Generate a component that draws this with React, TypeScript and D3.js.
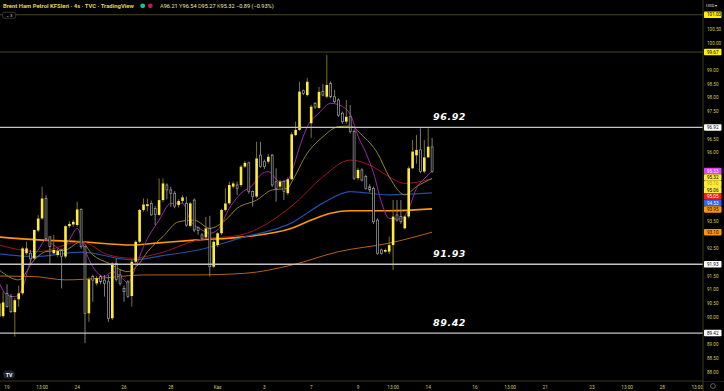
import React from 'react';
import * as d3 from 'd3';

const width = 724;
const height = 391;
const plotRight = 703;
const axisBottom = 381;

// 4h candles, index 0 = first visible bar
const opens = [
  90.02, 90.04, 90.87, 90.75, 90.18, 90.65, 90.87, 92.33, 92.33, 92.14, 93.16, 93.6, 94.33, 92.93, 92.33, 92.27,
  92.45, 92.21, 93.32, 93.38, 93.36, 93.93, 92.57, 90.14, 91.48, 91.23, 91.48, 91.35, 91.29, 89.96, 91.96, 91.54,
  91.05, 91.29, 90.77, 92.02, 92.75, 93.91, 94.05, 94.15, 93.97, 93.73, 94.27, 94.82, 94.64, 94.52, 94.09, 94.24,
  94.15, 93.33, 94.27, 93.28, 93.0, 92.91, 93.24, 91.84, 92.63, 93.06, 93.91, 94.15, 94.76, 94.82, 94.82, 95.49,
  95.63, 94.58, 94.4, 95.91, 95.67, 95.67, 95.91, 94.94, 94.76, 94.94, 94.52, 95.03, 96.64, 96.83, 98.26, 98.1,
  97.07, 97.8, 97.63, 98.23, 98.04, 98.53, 98.04, 97.92, 97.44, 97.13, 97.31, 96.77, 95.07, 95.37, 95.13, 94.76,
  94.7, 93.54, 92.45, 92.39, 92.39, 92.63, 93.73, 93.67, 93.24, 93.67, 95.43, 95.9, 96.1, 95.31, 95.83, 96.21,
];
const highs = [
  90.6, 90.93, 91.2, 90.85, 90.7, 91.15, 92.55, 92.75, 92.45, 93.2, 93.72, 94.76, 94.45, 92.95, 93.0, 92.5,
  92.5, 93.35, 93.5, 93.55, 94.21, 93.97, 92.6, 91.45, 91.55, 91.5, 91.54, 91.54, 91.54, 92.0, 92.14, 91.75,
  91.15, 91.35, 92.1, 92.8, 93.95, 94.33, 94.33, 94.25, 94.05, 95.06, 95.06, 94.88, 94.76, 94.6, 94.3, 94.45,
  94.4, 94.2, 94.33, 93.3, 93.06, 93.66, 93.7, 92.8, 93.1, 93.95, 94.7, 94.94, 94.95, 94.94, 95.55, 95.7,
  95.67, 94.62, 96.4, 96.4, 95.75, 95.95, 95.95, 95.43, 95.0, 95.0, 95.1, 96.75, 97.13, 98.59, 98.3, 98.72,
  97.75, 97.85, 98.4, 98.5, 99.56, 98.6, 98.29, 97.98, 97.5, 97.92, 97.74, 96.85, 95.45, 95.43, 95.2, 94.85,
  94.76, 93.6, 92.5, 92.5, 92.94, 94.27, 94.27, 94.27, 93.7, 95.5, 96.46, 96.64, 96.89, 96.46, 96.89, 96.54,
];
const lows = [
  89.45, 89.98, 90.35, 90.15, 89.29, 90.38, 90.8, 92.27, 91.96, 92.1, 93.1, 93.55, 92.8, 91.9, 92.3, 92.2,
  91.05, 92.15, 93.25, 93.3, 93.3, 92.5, 89.05, 89.83, 90.56, 91.15, 91.2, 90.75, 89.83, 89.9, 91.3, 91.15,
  90.56, 90.7, 90.38, 91.96, 92.7, 93.85, 93.85, 93.7, 93.36, 93.7, 94.2, 94.3, 94.03, 93.97, 94.0, 94.15,
  93.3, 93.28, 93.1, 93.0, 92.8, 92.85, 91.48, 91.8, 92.55, 93.0, 93.85, 94.1, 94.7, 94.46, 94.75, 95.45,
  94.5, 94.03, 94.35, 95.45, 95.4, 95.6, 94.75, 94.21, 94.7, 94.27, 94.45, 95.0, 96.6, 96.8, 98.1, 98.05,
  96.54, 97.6, 97.6, 98.05, 97.98, 97.98, 97.8, 97.3, 97.05, 97.05, 96.7, 95.0, 95.0, 94.95, 94.65, 94.55,
  93.4, 92.28, 92.28, 92.35, 92.3, 91.72, 93.48, 93.4, 93.2, 93.6, 95.4, 95.6, 95.25, 95.25, 95.8, 95.27,
];
const closes = [
  90.5, 90.54, 90.38, 90.2, 90.62, 90.87, 92.51, 92.51, 92.13, 93.18, 93.6, 94.33, 92.87, 92.57, 92.45, 92.41,
  92.21, 93.32, 93.4, 93.48, 93.93, 92.57, 90.14, 91.38, 91.35, 91.42, 91.29, 91.23, 89.96, 91.96, 91.38, 91.23,
  90.93, 90.75, 92.02, 92.75, 93.91, 94.11, 94.12, 93.73, 93.75, 94.27, 94.88, 94.64, 94.52, 94.05, 94.24, 94.37,
  93.36, 94.15, 93.18, 93.16, 92.88, 93.24, 91.84, 92.75, 93.06, 93.91, 94.15, 94.82, 94.88, 94.7, 95.49, 95.63,
  94.58, 94.4, 95.79, 95.49, 95.49, 95.85, 94.82, 94.7, 94.94, 94.58, 95.03, 96.67, 96.83, 98.23, 98.16, 98.59,
  97.68, 97.66, 98.22, 98.1, 98.47, 98.04, 97.86, 97.37, 97.13, 97.31, 96.77, 95.07, 95.37, 95.0, 94.7, 94.64,
  93.48, 92.33, 92.33, 92.45, 92.63, 93.67, 93.54, 93.48, 93.67, 95.43, 96.04, 96.1, 95.31, 95.83, 96.22, 95.32,
];

// moving averages at a few bars
const purpleIdx = [0, 2, 4, 6, 8, 10, 12, 14, 16, 18, 20, 22, 24, 27, 29, 32, 33, 35, 37, 41, 44, 47, 49, 52, 54, 56, 59, 62, 65, 67, 69, 72, 74, 75, 77, 79, 82, 85, 87, 90, 92, 94, 96, 98, 100, 103, 105, 107, 109, 111];
const purpleVal = [91.25, 90.81, 90.75, 91.07, 92.02, 92.45, 92.82, 92.63, 92.45, 92.82, 93.24, 92.45, 91.84, 91.48, 91.66, 91.36, 91.24, 91.84, 92.57, 93.54, 94.15, 94.16, 93.54, 93.18, 93.06, 93.18, 93.97, 94.52, 94.82, 95.19, 95.31, 94.94, 95.0, 95.3, 96.2, 96.95, 97.45, 97.8, 97.75, 97.4, 96.6, 96.0, 95.25, 94.2, 93.6, 93.58, 93.95, 94.7, 95.05, 95.33];
const oliveIdx = [0, 5, 9, 12, 17, 21, 24, 28, 33, 36, 38, 42, 46, 50, 54, 58, 61, 66, 70, 74, 75, 79, 83, 87, 90, 93, 97, 100, 104, 107, 111];
const oliveVal = [91.72, 91.36, 92.09, 92.39, 92.45, 92.75, 92.27, 91.97, 91.66, 91.97, 92.38, 92.94, 93.48, 93.54, 93.24, 93.54, 93.97, 94.27, 94.64, 94.7, 94.93, 95.98, 96.58, 96.95, 96.97, 96.64, 95.98, 95.12, 94.46, 94.76, 95.06];
const redIdx = [0, 10, 21, 28, 34, 41, 51, 62, 75, 83, 90, 95, 100, 104, 111];
const redVal = [92.63, 92.39, 92.75, 92.27, 92.15, 92.33, 92.82, 93.0, 94.05, 95.12, 95.73, 95.55, 95.12, 94.88, 95.05];
const blueIdx = [0, 9, 21, 34, 43, 51, 62, 75, 83, 90, 100, 111];
const blueVal = [92.31, 92.21, 92.37, 92.09, 92.27, 92.45, 92.89, 93.44, 94.16, 94.58, 94.46, 94.53];
const orangeIdx = [0, 10, 21, 34, 41, 51, 62, 75, 80, 85, 90, 100, 111];
const orangeVal = [92.92, 92.82, 92.75, 92.63, 92.71, 92.82, 92.92, 93.24, 93.54, 93.79, 93.88, 93.88, 93.95];
const brownIdx = [0, 9, 17, 26, 37, 50, 63, 75, 87, 100, 111];
const brownVal = [91.5, 91.48, 91.36, 91.42, 91.54, 91.54, 91.6, 91.9, 92.39, 92.7, 93.1];

// time axis
const timeTickIdx = [2, 11, 20, 32, 44, 56, 68, 80, 92, 101, 110, 122, 131, 140, 152, 161, 170, 179];
const timeTickLabels = ['19', '13:00', '24', '26', '28', 'Kas', '3', '7', '9', '13:00', '14', '16', '13:00', '21', '23', '13:00', '28', '13:00'];

// horizontal levels
const whiteLevels = [96.92, 91.93, 89.42];
const oliveLevels = [101.03, 99.67];

// price scale badges
const badgeValues = [101.03, 99.67, 96.92, 95.33, 95.32, 95.16, 95.06, 95.05, 94.53, 93.95, 93.1, 91.93, 89.42];
const badgeFill = ['#ffee00', '#ffee00', '#ffffff', '#e040fb', '#ffeb3b', '#ffeb3b', '#ffeb3b', '#ff1a1a', '#2962ff', '#ff9800', '#ff9800', '#ffffff', '#ffffff'];
const badgeText = ['#000', '#000', '#000', '#fff', '#000', '#b9a400', '#000', '#fff', '#fff', '#000', '#000', '#000', '#000'];

const x = d3.scaleLinear().domain([0, 1]).range([-0.8, 3.1]);
const y = d3.scaleLinear().domain([88, 100]).range([372, 43]);

const axisColor = '#3a3716';
const tickColor = '#d9cc45';
const font = 'Roboto, "Liberation Sans", sans-serif';

function maPath(idx: number[], val: number[]) {
  const line = d3
    .line<number>()
    .x((d, k) => x(idx[k]))
    .y((d) => y(d))
    .curve(d3.curveMonotoneX);
  return line(val) || '';
}

export default function App() {
  const bodyW = 2.6;

  // stack badges so they don't overlap
  const badgeH = 6.4;
  const badgeY: number[] = [];
  badgeValues.forEach((v, k) => {
    const natural = y(v);
    badgeY.push(k === 0 ? natural : Math.max(natural, badgeY[k - 1] + badgeH));
  });

  // hide axis ticks sitting under a badge
  const priceTicks = d3
    .range(88, 101.001, 0.5)
    .filter((v) => badgeY.every((b) => Math.abs(y(v) - b) > 6.2));

  const mas = [
    { idx: brownIdx, val: brownVal, color: '#b5630f', w: 1 },
    { idx: orangeIdx, val: orangeVal, color: '#ff9800', w: 1.6 },
    { idx: blueIdx, val: blueVal, color: '#1f4fa8', w: 1.2 },
    { idx: redIdx, val: redVal, color: '#a3161a', w: 1 },
    { idx: oliveIdx, val: oliveVal, color: '#8f8628', w: 1 },
    { idx: purpleIdx, val: purpleVal, color: '#9c27b0', w: 1 },
  ];

  return (
    <svg
      width={width}
      height={height}
      style={{ position: 'absolute', left: 0, top: 0, display: 'block', background: '#000' }}
      fontFamily={font}
    >
      <defs>
        <clipPath id="plot">
          <rect x={0} y={0} width={plotRight} height={axisBottom} />
        </clipPath>
      </defs>
      <rect width={width} height={height} fill="#000" />

      <g clipPath="url(#plot)">
        {oliveLevels.map((v) => (
          <line key={v} x1={0} x2={plotRight} y1={y(v)} y2={y(v)} stroke="#4a4620" strokeWidth={1} />
        ))}

        {mas.map((m, k) => (
          <path key={k} d={maPath(m.idx, m.val)} fill="none" stroke={m.color} strokeWidth={m.w} />
        ))}

        {closes.map((c, i) => {
          const o = opens[i];
          const up = c >= o;
          const cx = x(i);
          const top = y(Math.max(o, c));
          const bot = Math.max(y(Math.min(o, c)), top + 0.8);
          const wick = up ? '#8a8122' : '#8a8a8a';
          return (
            <g key={i}>
              <line x1={cx} x2={cx} y1={y(highs[i])} y2={top} stroke={wick} strokeWidth={0.9} />
              <line x1={cx} x2={cx} y1={bot} y2={y(lows[i])} stroke={wick} strokeWidth={0.9} />
              {up ? (
                <rect x={cx - bodyW / 2} y={top} width={bodyW} height={bot - top} fill="#ffeb3b" />
              ) : (
                <rect
                  x={cx - bodyW / 2 + 0.35}
                  y={top}
                  width={bodyW - 0.7}
                  height={bot - top}
                  fill="#000"
                  stroke="#a8a8a8"
                  strokeWidth={0.7}
                />
              )}
            </g>
          );
        })}

        {whiteLevels.map((v) => (
          <g key={v}>
            <line x1={0} x2={plotRight} y1={y(v)} y2={y(v)} stroke="#c4c4c4" strokeWidth={1.3} />
            <text
              x={433}
              y={y(v) - 7}
              fill="#fff"
              fontSize={9.5}
              fontWeight="bold"
              fontStyle="italic"
              letterSpacing={0.6}
              fontFamily='"DejaVu Sans", sans-serif'
            >
              {v.toFixed(2)}
            </text>
          </g>
        ))}
      </g>

      {/* header */}
      <text x={3} y={7.9} fill="#e3d545" fontSize={5.9} fontWeight="bold">
        Brent Ham Petrol KFSleri · 4s · TVC · TradingView
      </text>
      <circle cx={142.7} cy={5.8} r={2.4} fill="#1fbf9a" />
      <circle cx={150.3} cy={5.8} r={2.4} fill="#c2185b" />
      <text x={160} y={7.9} fontSize={5.6} fill="#e3d545">
        {[
          ['A', opens[opens.length - 1]],
          ['Y', highs[highs.length - 1]],
          ['D', lows[lows.length - 1]],
          ['K', closes[closes.length - 1]],
        ].map(([l, v]) => (
          <tspan key={l as string}>
            <tspan fill="#e3d545">{l as string}</tspan>
            <tspan fill="#f2ecb0">{(v as number).toFixed(2)} </tspan>
          </tspan>
        ))}
        <tspan fill="#f2ecb0">−0.89 (−0.93%)</tspan>
      </text>
      <rect x={2.7} y={12.3} width={13} height={6} rx={1.5} fill="#000" stroke="#555" strokeWidth={0.6} />
      <text x={9.2} y={16.8} fontSize={4.4} fill="#ccc" textAnchor="middle">
        ⌄ 3
      </text>

      {/* TV logo */}
      <rect x={3} y={370.5} width={12} height={8} rx={4} fill="#1e2230" />
      <text x={9} y={376.6} fontSize={5.2} fontWeight="bold" fill="#fff" textAnchor="middle">
        TV
      </text>

      {/* time axis */}
      <line x1={0} x2={width} y1={axisBottom} y2={axisBottom} stroke={axisColor} strokeWidth={1} />
      {timeTickIdx.map((t, k) => (
        <text key={k} x={x(t)} y={388.5} fontSize={4.7} fill={tickColor} textAnchor="middle">
          {timeTickLabels[k]}
        </text>
      ))}

      {/* price axis */}
      <rect x={plotRight} y={0} width={width - plotRight} height={axisBottom} fill="#000" />
      <line x1={plotRight} x2={plotRight} y1={0} y2={height} stroke={axisColor} strokeWidth={1} />
      <text x={706} y={6.5} fontSize={4.4} fill="#e8e0a0">
        USD ▾
      </text>
      {priceTicks.map((v) => (
        <text key={v} x={707} y={y(v) + 1.6} fontSize={4.6} fill={tickColor}>
          {v.toFixed(2)}
        </text>
      ))}
      {badgeValues.map((v, k) => (
        <g key={v}>
          <rect x={704} y={badgeY[k] - badgeH / 2} width={17.5} height={badgeH} rx={0.8} fill={badgeFill[k]} />
          <text x={707} y={badgeY[k] + 1.6} fontSize={4.6} fill={badgeText[k]}>
            {v.toFixed(2)}
          </text>
        </g>
      ))}
      <circle cx={713} cy={386} r={2.4} fill="none" stroke="#888" strokeWidth={0.7} />
    </svg>
  );
}
